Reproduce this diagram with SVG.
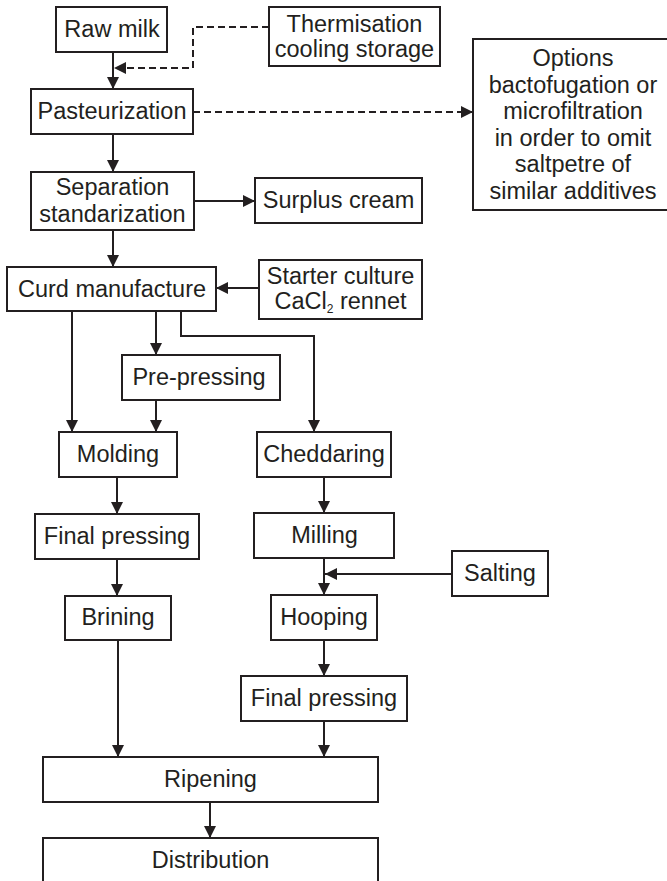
<svg xmlns="http://www.w3.org/2000/svg" width="667" height="881" viewBox="0 0 667 881">
<style>
.box{fill:#fff;stroke:#231f20;stroke-width:2}
.t{font-family:"Liberation Sans",Arial,sans-serif;font-size:23.5px;fill:#231f20;text-anchor:middle}
.c{fill:none;stroke:#231f20;stroke-width:2}
.d{stroke-dasharray:7 4}
</style>
<defs>
<marker id="ah" markerUnits="userSpaceOnUse" markerWidth="13" markerHeight="13" refX="12" refY="6" orient="auto">
<path d="M0,0 L12,6 L0,12 Z" fill="#231f20"/>
</marker>
</defs>
<rect width="667" height="881" fill="#fff"/>
<g id="connectors">
<path class="c" d="M113,52 V89" marker-end="url(#ah)"/>
<path class="c d" d="M269,27 H193 V68 H114" marker-end="url(#ah)"/>
<path class="c d" d="M193,112 H473" marker-end="url(#ah)"/>
<path class="c" d="M113,134 V172" marker-end="url(#ah)"/>
<path class="c" d="M194,201 H255" marker-end="url(#ah)"/>
<path class="c" d="M113,230 V267" marker-end="url(#ah)"/>
<path class="c" d="M259,288 H216" marker-end="url(#ah)"/>
<path class="c" d="M72,311 V432" marker-end="url(#ah)"/>
<path class="c" d="M156,311 V355" marker-end="url(#ah)"/>
<path class="c" d="M181,311 V336 H314 V432" marker-end="url(#ah)"/>
<path class="c" d="M156,400 V432" marker-end="url(#ah)"/>
<path class="c" d="M117,477 V514" marker-end="url(#ah)"/>
<path class="c" d="M117,559 V596" marker-end="url(#ah)"/>
<path class="c" d="M118,640 V757" marker-end="url(#ah)"/>
<path class="c" d="M324,477 V513" marker-end="url(#ah)"/>
<path class="c" d="M324,558 V595" marker-end="url(#ah)"/>
<path class="c" d="M452,574 H325" marker-end="url(#ah)"/>
<path class="c" d="M324,640 V676" marker-end="url(#ah)"/>
<path class="c" d="M324,721 V757" marker-end="url(#ah)"/>
<path class="c" d="M210,802 V838" marker-end="url(#ah)"/>
</g>
<g id="raw-milk"><rect class="box" x="56" y="7" width="111" height="45"/><text class="t" x="112" y="37">Raw milk</text></g>
<g id="thermisation"><rect class="box" x="269" y="7" width="171" height="59"/><text class="t" x="354.5" y="32">Thermisation</text><text class="t" x="354.5" y="57">cooling storage</text></g>
<g id="pasteurization"><rect class="box" x="31" y="89" width="162" height="45"/><text class="t" x="112" y="119">Pasteurization</text></g>
<g id="options"><rect class="box" x="473" y="39" width="200" height="171"/>
<text class="t" x="573" y="66">Options</text>
<text class="t" x="573" y="92.5">bactofugation or</text>
<text class="t" x="573" y="119">microfiltration</text>
<text class="t" x="573" y="145.5">in order to omit</text>
<text class="t" x="573" y="172">saltpetre of</text>
<text class="t" x="573" y="198.5">similar additives</text></g>
<g id="separation"><rect class="box" x="31" y="172" width="163" height="58"/><text class="t" x="112.5" y="195">Separation</text><text class="t" x="112.5" y="222">standarization</text></g>
<g id="surplus-cream"><rect class="box" x="255" y="178" width="167" height="45"/><text class="t" x="338.5" y="208">Surplus cream</text></g>
<g id="curd-manufacture"><rect class="box" x="7" y="267" width="209" height="44"/><text class="t" x="112" y="297">Curd manufacture</text></g>
<g id="starter-culture"><rect class="box" x="259" y="260" width="163" height="59"/><text class="t" x="340.5" y="284">Starter culture</text><text class="t" x="340.5" y="309">CaCl<tspan font-size="12" dy="4">2</tspan><tspan dy="-4"> rennet</tspan></text></g>
<g id="pre-pressing"><rect class="box" x="122" y="355" width="158" height="45"/><text class="t" x="199" y="385">Pre-pressing</text></g>
<g id="molding"><rect class="box" x="59" y="432" width="118" height="45"/><text class="t" x="118" y="462">Molding</text></g>
<g id="cheddaring"><rect class="box" x="257" y="432" width="134" height="45"/><text class="t" x="324" y="462">Cheddaring</text></g>
<g id="final-pressing-left"><rect class="box" x="35" y="514" width="164" height="45"/><text class="t" x="117" y="544">Final pressing</text></g>
<g id="milling"><rect class="box" x="254" y="513" width="140" height="45"/><text class="t" x="324.5" y="543">Milling</text></g>
<g id="salting"><rect class="box" x="452" y="551" width="96" height="45"/><text class="t" x="500" y="581">Salting</text></g>
<g id="brining"><rect class="box" x="65" y="596" width="106" height="44"/><text class="t" x="118" y="625">Brining</text></g>
<g id="hooping"><rect class="box" x="271" y="595" width="106" height="45"/><text class="t" x="324" y="625">Hooping</text></g>
<g id="final-pressing-right"><rect class="box" x="241" y="676" width="166" height="45"/><text class="t" x="324" y="706">Final pressing</text></g>
<g id="ripening"><rect class="box" x="43" y="757" width="335" height="45"/><text class="t" x="210.5" y="787">Ripening</text></g>
<g id="distribution"><rect class="box" x="43" y="838" width="335" height="48"/><text class="t" x="210.5" y="868">Distribution</text></g>
</svg>
